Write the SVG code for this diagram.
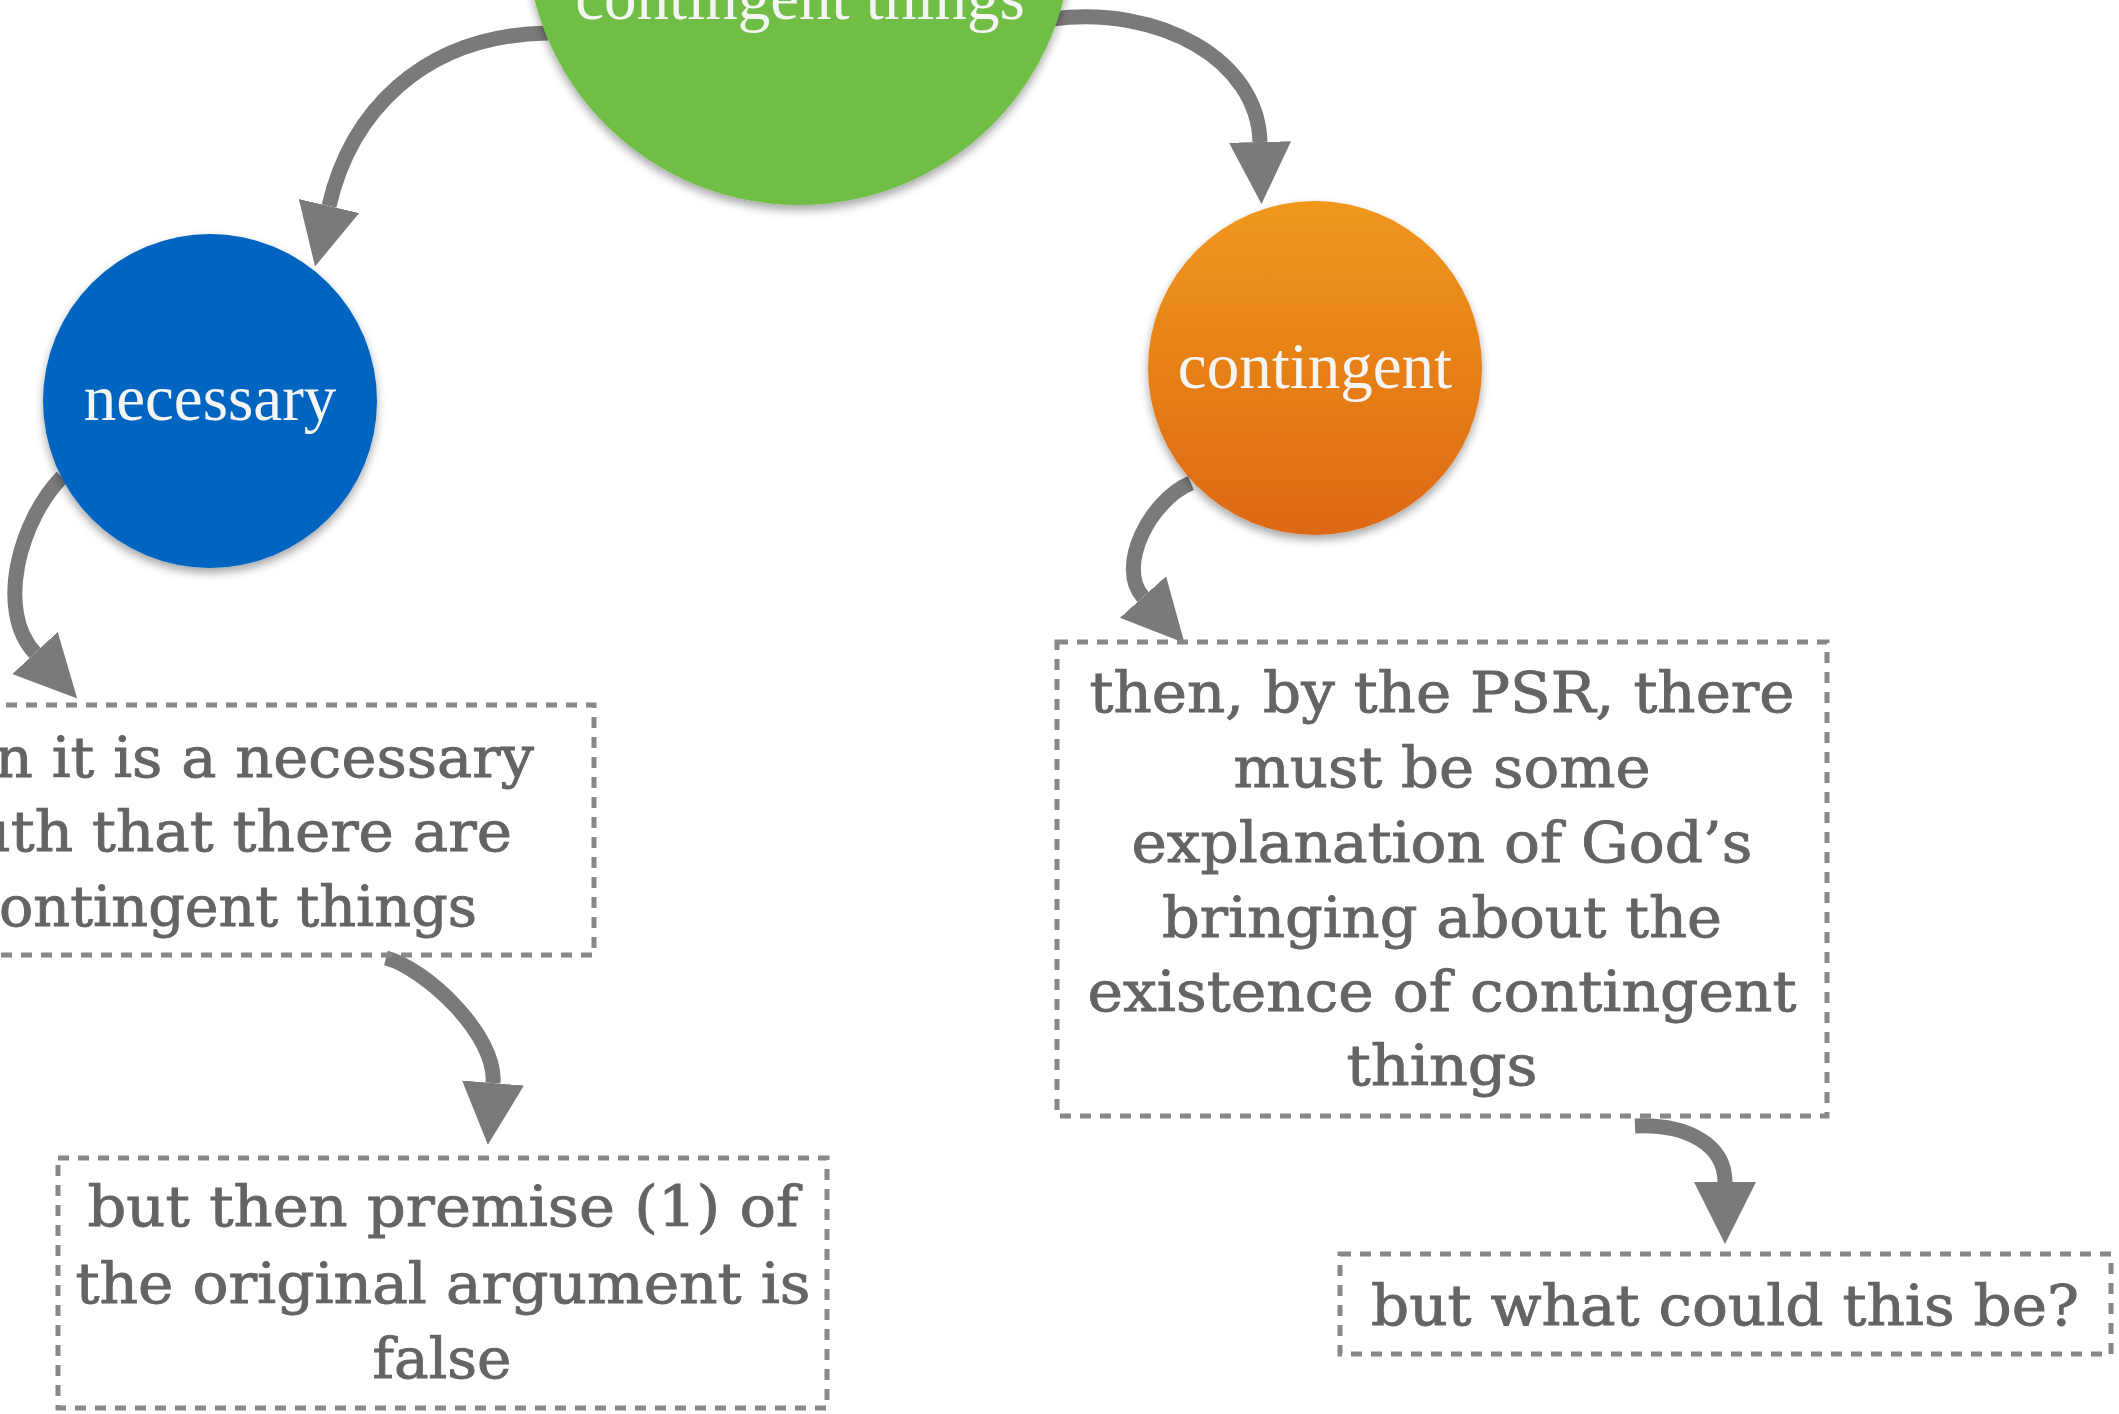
<svg xmlns="http://www.w3.org/2000/svg" width="2119" height="1414" viewBox="0 0 2119 1414">
<style>
.conn{fill:none;stroke:#7a7a7a;stroke-width:15;stroke-linecap:butt;marker-end:url(#head)}
.box{fill:none;stroke:#87888c;stroke-width:5;stroke-dasharray:11 9}
.bt{font-family:"DejaVu Serif","Liberation Serif",serif;font-size:56px;fill:#646464;stroke:#646464;stroke-width:0.9px;text-anchor:middle}
.nt{font-family:"Liberation Serif","DejaVu Serif",serif;font-size:65px;fill:#f5f5f5;text-anchor:middle}
</style>
<defs>
<marker id="head" markerUnits="userSpaceOnUse" markerWidth="64" markerHeight="64" refX="0" refY="31" orient="auto" viewBox="0 0 64 64">
<path d="M0,0 L62,31 L0,62 Z" fill="#7a7a7a"/>
</marker>
<linearGradient id="orangeGrad" x1="0" y1="0" x2="0" y2="1">
<stop offset="0" stop-color="#f0981d"/>
<stop offset="1" stop-color="#dd6812"/>
</linearGradient>
<filter id="shadow" x="-20%" y="-20%" width="140%" height="150%">
<feDropShadow dx="0" dy="5" stdDeviation="5" flood-color="#000" flood-opacity="0.35"/>
</filter>
</defs>
<rect x="0" y="0" width="2119" height="1414" fill="#ffffff"/>
<g id="connectors">
<path class="conn" d="M548,33 C420,35 350,115 329,206"/>
<path class="conn" d="M1052,19 C1160,5 1258,60 1260,142"/>
<path class="conn" d="M62,477 C20,520 -5,610 35,653"/>
<path class="conn" d="M1191,483 C1150,500 1116,567 1143,597"/>
<path class="conn" d="M386,958 C425,968 497,1035 493,1083"/>
<path class="conn" d="M1635,1126 C1688,1124 1725,1145 1725,1182"/>
</g>
<g id="node-root">
<circle cx="799" cy="-68" r="273" fill="#70be44" filter="url(#shadow)"/>
<text class="nt" x="800" y="19">contingent things</text>
</g>
<g id="node-necessary">
<circle cx="210" cy="401" r="167" fill="#0565c0" filter="url(#shadow)"/>
<text class="nt" x="210" y="420">necessary</text>
</g>
<g id="node-contingent">
<circle cx="1315" cy="368" r="167" fill="url(#orangeGrad)" filter="url(#shadow)"/>
<text class="nt" x="1315" y="388">contingent</text>
</g>
<g id="box-necessary-truth">
<rect class="box" x="-154" y="705" width="748" height="250"/>
<text class="bt" style="text-anchor:end" x="534" y="777" textLength="636" lengthAdjust="spacingAndGlyphs">then it is a necessary</text>
<text class="bt" style="text-anchor:end" x="512" y="851" textLength="592" lengthAdjust="spacingAndGlyphs">truth that there are</text>
<text class="bt" style="text-anchor:end" x="477" y="926" textLength="510" lengthAdjust="spacingAndGlyphs">contingent things</text>
</g>
<g id="box-premise-false">
<rect class="box" x="58" y="1158" width="769" height="250"/>
<text class="bt" x="443" y="1226" textLength="711" lengthAdjust="spacingAndGlyphs">but then premise (1) of</text>
<text class="bt" x="443" y="1303" textLength="735" lengthAdjust="spacingAndGlyphs">the original argument is</text>
<text class="bt" x="442" y="1378" textLength="139" lengthAdjust="spacingAndGlyphs">false</text>
</g>
<g id="box-psr">
<rect class="box" x="1057" y="642" width="770" height="474"/>
<text class="bt" x="1442" y="712" textLength="705" lengthAdjust="spacingAndGlyphs">then, by the PSR, there</text>
<text class="bt" x="1442" y="787" textLength="417" lengthAdjust="spacingAndGlyphs">must be some</text>
<text class="bt" x="1442" y="862" textLength="621" lengthAdjust="spacingAndGlyphs">explanation of God’s</text>
<text class="bt" x="1442" y="937" textLength="560" lengthAdjust="spacingAndGlyphs">bringing about the</text>
<text class="bt" x="1442" y="1011" textLength="709" lengthAdjust="spacingAndGlyphs">existence of contingent</text>
<text class="bt" x="1442" y="1085" textLength="191" lengthAdjust="spacingAndGlyphs">things</text>
</g>
<g id="box-question">
<rect class="box" x="1340" y="1254" width="771" height="100"/>
<text class="bt" x="1725" y="1325" textLength="708" lengthAdjust="spacingAndGlyphs">but what could this be?</text>
</g>
</svg>
